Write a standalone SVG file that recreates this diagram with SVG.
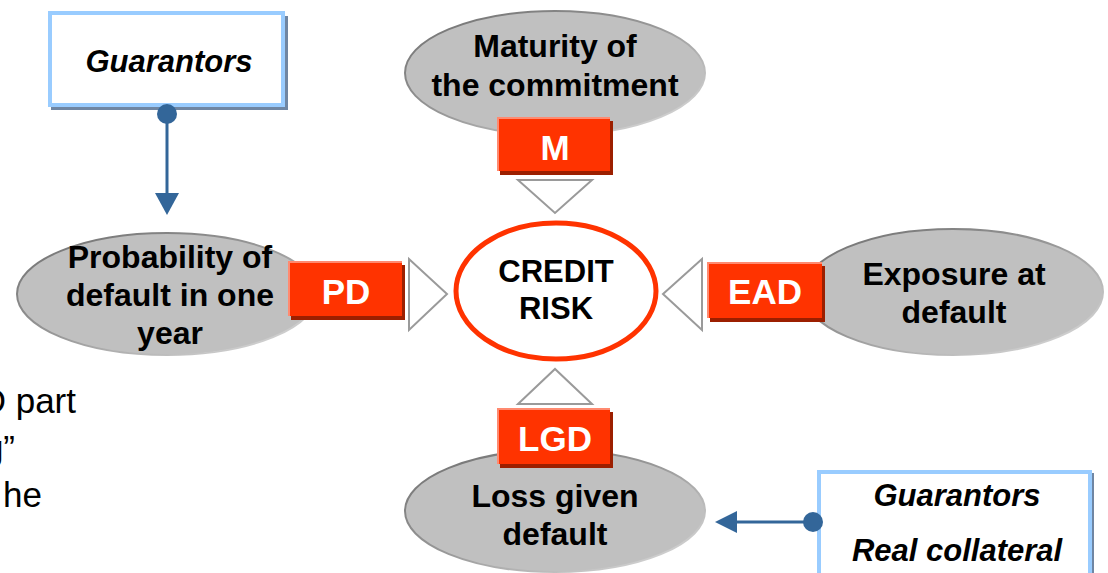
<svg xmlns="http://www.w3.org/2000/svg" width="1108" height="573" viewBox="0 0 1108 573">
<defs>
<linearGradient id="edge" x1="0" y1="0" x2="1" y2="1">
<stop offset="0" stop-color="#6e6e6e"/>
<stop offset="0.5" stop-color="#9a9a9a"/>
<stop offset="1" stop-color="#e2e2e2"/>
</linearGradient>
</defs>
<style>
.ell{fill:#c0c0c0;stroke:url(#edge);stroke-width:2}
.lbl{font-family:"Liberation Sans",Arial,sans-serif;font-weight:bold;font-size:32px;fill:#000;text-anchor:middle}
.tag{font-family:"Liberation Sans",Arial,sans-serif;font-weight:bold;font-size:35px;fill:#fff;text-anchor:middle}
.it{font-family:"Liberation Sans",Arial,sans-serif;font-weight:bold;font-style:italic;font-size:31px;fill:#000;text-anchor:middle}
.side{font-family:"Liberation Sans",Arial,sans-serif;font-size:35px;fill:#000;text-anchor:end}
.sh{fill:#9c1f00}
.hi{fill:#ff8a70}
.rd{fill:#ff3300}
.tri{fill:#fff;stroke:#9a9a9a;stroke-width:2}
.bsh{fill:#6f86a3}
.box{fill:#fff;stroke:#99ccff;stroke-width:4}
.con{stroke:#336699;stroke-width:3;fill:none}
.dot{fill:#336699}
</style>

<g id="side-text">
<text class="side" x="76" y="413">D part</text>
<text class="side" x="15" y="460">g”</text>
<text class="side" x="42" y="507">he</text>
</g>

<g id="guarantors-top">
<rect class="bsh" x="51" y="16" width="237" height="94"/>
<rect class="box" x="50" y="13" width="233" height="92"/>
<text class="it" x="169" y="72">Guarantors</text>
</g>

<g id="maturity">
<ellipse class="ell" cx="555" cy="73" rx="150" ry="62"/>
<text class="lbl" x="555" y="57">Maturity of</text>
<text class="lbl" x="555" y="96">the commitment</text>
</g>

<g id="probability">
<ellipse class="ell" cx="167" cy="294" rx="150" ry="61"/>
<text class="lbl" x="170" y="268">Probability of</text>
<text class="lbl" x="170" y="306">default in one</text>
<text class="lbl" x="170" y="344">year</text>
</g>

<g id="exposure">
<ellipse class="ell" cx="953" cy="292" rx="150" ry="63"/>
<text class="lbl" x="954" y="285">Exposure at</text>
<text class="lbl" x="954" y="323">default</text>
</g>

<g id="loss">
<ellipse class="ell" cx="555" cy="511" rx="150" ry="61"/>
<text class="lbl" x="555" y="507">Loss given</text>
<text class="lbl" x="555" y="545">default</text>
</g>

<g id="credit-risk">
<ellipse cx="556" cy="291" rx="100" ry="68" fill="#fff" stroke="#ff3300" stroke-width="5"/>
<text class="lbl" x="556" y="282" style="font-size:31px">CREDIT</text>
<text class="lbl" x="556" y="319" style="font-size:31px">RISK</text>
</g>

<g id="tag-m">
<rect class="sh" x="500" y="121" width="113" height="54"/>
<rect class="hi" x="497" y="117" width="113" height="54"/>
<rect class="rd" x="499" y="119" width="111" height="52"/>
<text class="tag" x="555" y="160">M</text>
</g>

<g id="tag-pd">
<rect class="sh" x="291" y="265" width="114" height="55"/>
<rect class="hi" x="288" y="261" width="114" height="55"/>
<rect class="rd" x="290" y="263" width="112" height="53"/>
<text class="tag" x="346" y="304">PD</text>
</g>

<g id="tag-ead">
<rect class="sh" x="710" y="266" width="115" height="56"/>
<rect class="hi" x="707" y="262" width="115" height="56"/>
<rect class="rd" x="709" y="264" width="113" height="54"/>
<text class="tag" x="765" y="304">EAD</text>
</g>

<g id="tag-lgd">
<rect class="sh" x="500" y="412" width="113" height="56"/>
<rect class="hi" x="497" y="408" width="113" height="56"/>
<rect class="rd" x="499" y="410" width="111" height="54"/>
<text class="tag" x="555" y="451">LGD</text>
</g>

<g id="guarantors-bottom">
<rect class="bsh" x="820" y="473" width="274" height="110"/>
<rect class="box" x="819" y="472" width="271" height="110"/>
<text class="it" x="957" y="506">Guarantors</text>
<text class="it" x="957" y="561">Real collateral</text>
</g>

<g id="connectors">
<polygon class="tri" points="518,180 592,180 555,213"/>
<polygon class="tri" points="518,404 592,404 555,369"/>
<polygon class="tri" points="409,259 409,330 447,294"/>
<polygon class="tri" points="702,259 702,330 663,294"/>
<line class="con" x1="167" y1="114" x2="167" y2="196"/>
<circle class="dot" cx="167" cy="114" r="10"/>
<polygon class="dot" points="155,193 179,193 167,215"/>
<line class="con" x1="813" y1="522" x2="734" y2="522"/>
<circle class="dot" cx="813" cy="522" r="10"/>
<polygon class="dot" points="737,511 737,533 715,522"/>
</g>
</svg>
